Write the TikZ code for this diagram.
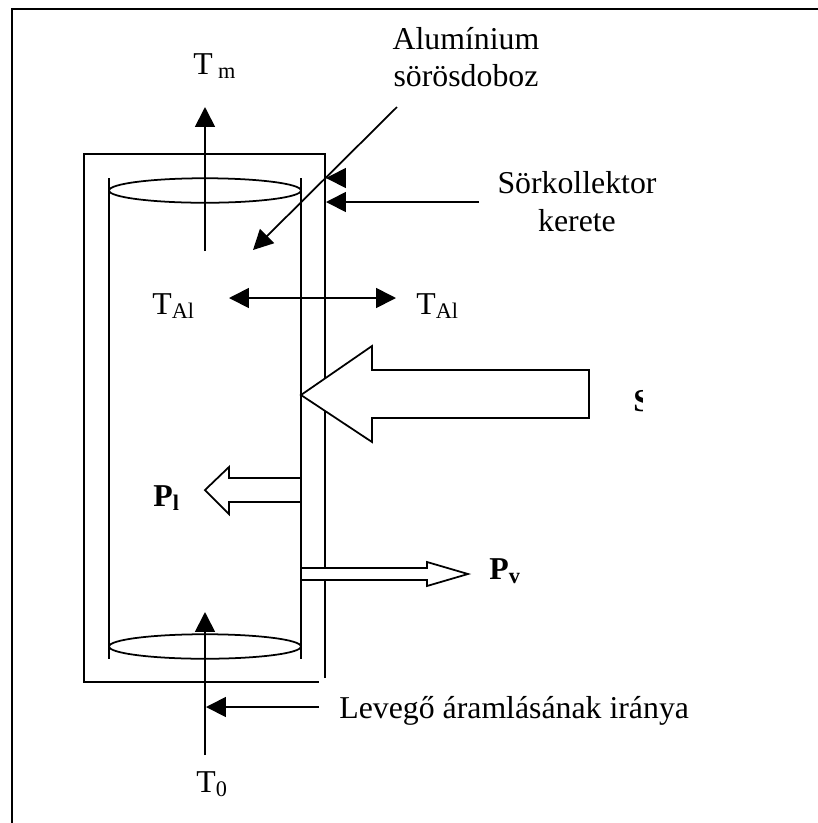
\documentclass[tikz,border=0pt]{standalone}
\usepackage{fontspec}
\setmainfont{Liberation Serif}
\usetikzlibrary{shapes.geometric, arrows.meta}
\tikzset{
    wire/.style={line width=1pt,black},
    flow/.style={wire,-{Triangle[length=11.3pt,width=11.3pt]}},
    flowboth/.style={wire,{Triangle[length=11.3pt,width=11.3pt]}-{Triangle[length=11.3pt,width=11.3pt]}},
    lid/.style={wire,draw,ellipse,minimum width=3.84cm,minimum height=0.49cm,inner sep=0pt},
    block/.style={wire,draw,fill=white,line join=miter},
    caption/.style={font=\fontsize{18.1}{21.5}\selectfont,align=center,inner sep=0pt},
    symbol/.style={font=\fontsize{18.1}{21.5}\selectfont,anchor=base west,inner sep=0pt},
}
\begin{document}
\begin{tikzpicture}[x=0.02cm,y=-0.02cm]
    \useasboundingbox (0,0) rectangle (818,823);

    % Oldal kerete
    \draw[wire] (12,823) -- (12,9) -- (818,9);

    % Kollektor kerete
    \draw[wire] (325,678) -- (325,154) -- (84,154) -- (84,682) -- (319,682);

    % Sorosdoboz
    \draw[wire] (109,178) -- (109,659);
    \draw[wire] (301,178) -- (301,659);
    \node[lid] (lidtop) at (205,190.5) {};
    \node[lid] (lidbottom) at (205,646.5) {};

    % Feliratok
    \node[caption] (can) at (466,57) {Alumínium\\sörösdoboz};
    \node[caption] (frame) at (577,202) {Sörkollektor\\kerete};
    \node[caption,anchor=base west] (air) at (339,718) {Levegő áramlásának iránya};
    \node[symbol] (tm) at (193,74) {T\,\textsubscript{m}};
    \node[symbol] (talin) at (152,314) {T\textsubscript{Al}};
    \node[symbol] (talout) at (416,314) {T\textsubscript{Al}};
    \node[symbol] (tzero) at (196,792) {T\textsubscript{0}};
    \node[symbol,font=\fontsize{18.1}{21.5}\selectfont\bfseries] (pl) at (153,506) {P\textsubscript{l}};
    \node[symbol,font=\fontsize{18.1}{21.5}\selectfont\bfseries] (pv) at (489,579) {P\textsubscript{v}};
    \begin{scope}
        \clip (630,380) rectangle (642,420);
        \node[symbol,font=\fontsize{18.1}{21.5}\selectfont\bfseries] (sun) at (633,411) {S};
    \end{scope}

    % Vegpontok
    \coordinate (tmstart) at (205,251);
    \coordinate (tmend) at (205,107);
    \coordinate (canstart) at (397,107);
    \coordinate (canend) at (253,250);
    \coordinate (framestart) at (479,202);
    \coordinate (frameend) at (326,202);
    \coordinate (headstart) at (346,178);
    \coordinate (headend) at (326,178);
    \coordinate (talleft) at (229,298);
    \coordinate (talright) at (396,298);
    \coordinate (zerostart) at (205,755);
    \coordinate (zeroend) at (205,612);
    \coordinate (airstart) at (319,707);
    \coordinate (airend) at (206,707);

    % Nyilak
    \draw[flow] (tmstart) -- (tmend);
    \draw[flow] (canstart) -- (canend);
    \draw[flow] (framestart) -- (frameend);
    \draw[flow] (headstart) -- (headend);
    \draw[flowboth] (talleft) -- (talright);
    \draw[flow] (zerostart) -- (zeroend);
    \draw[flow] (airstart) -- (airend);

    % Teli nyilak
    \draw[block] (301,395) -- (372,346) -- (372,370) -- (589,370) -- (589,418) -- (372,418) -- (372,442) -- cycle;
    \draw[block] (205,490) -- (229,467) -- (229,478) -- (301,478) -- (301,502) -- (229,502) -- (229,514) -- cycle;
    \draw[block] (468,574) -- (427,562) -- (427,568) -- (301,568) -- (301,580) -- (427,580) -- (427,586) -- cycle;
\end{tikzpicture}
\end{document}
